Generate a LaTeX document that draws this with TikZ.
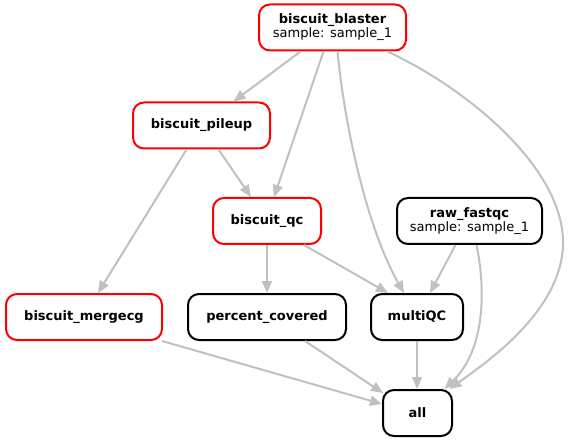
\documentclass[tikz,border=0pt]{standalone}
\usepackage{fontspec}
\setmainfont{DejaVu Sans}
\usepackage{tikz}
\usetikzlibrary{arrows.meta, positioning, calc}
\definecolor{rulered}{RGB}{255,0,0}
\definecolor{edgegray}{RGB}{192,192,192}
\tikzset{
  job/.style={rectangle, draw=black, fill=white, align=center,
    minimum height=46pt, inner sep=2pt, rounded corners=11pt,
    line width=2pt, font=\fontsize{13}{12.5}\selectfont},
  redjob/.style={job, draw=rulered},
  edge/.style={-{Triangle[length=12pt, width=10pt]}, line width=2pt, color=edgegray}
}
\begin{document}
\begin{tikzpicture}[x=1pt, y=-1pt]
  \useasboundingbox (0,0) rectangle (569,443);

  % jobs
  \node[redjob, minimum width=147pt] (blaster) at (332.5,27.5)
    {\textbf{biscuit\_blaster}\\sample: sample\_1};
  \node[redjob, minimum width=137pt] (pileup) at (201.5,125.5) {\textbf{biscuit\_pileup}};
  \node[redjob, minimum width=108pt] (qc) at (267,221) {\textbf{biscuit\_qc}};
  \node[job, minimum width=145pt] (rawqc) at (469.5,221)
    {\textbf{raw\_fastqc}\\sample: sample\_1};
  \node[redjob, minimum width=156pt] (mergecg) at (84,317) {\textbf{biscuit\_mergecg}};
  \node[job, minimum width=158pt] (covered) at (267,317) {\textbf{percent\_covered}};
  \node[job, minimum width=92pt] (multiqc) at (417,317) {\textbf{multiQC}};
  \node[job, minimum width=69pt] (all) at (417.5,413) {\textbf{all}};

  % dependencies
  \draw[edge] ([xshift=-32pt]blaster.south) -- ([xshift=32pt]pileup.north);
  \draw[edge] ([xshift=-9pt]blaster.south) -- ([xshift=7pt]qc.north);
  \draw[edge] ([xshift=5pt]blaster.south) .. controls (345,130) and (368,230) .. ([xshift=-13pt]multiqc.north);
  \draw[edge] ([xshift=55pt]blaster.south) .. controls (470,90) and (565,170) .. (563,245)
    .. controls (561,310) and (490,360) .. ([xshift=32pt]all.north);
  \draw[edge] ([xshift=17pt]pileup.south) -- ([xshift=-16pt]qc.north);
  \draw[edge] ([xshift=-15pt]pileup.south) -- ([xshift=14pt]mergecg.north);
  \draw[edge] (qc.south) -- (covered.north);
  \draw[edge] ([xshift=37pt]qc.south) -- ([xshift=-29pt]multiqc.north);
  \draw[edge] ([xshift=-14pt]rawqc.south) -- ([xshift=13pt]multiqc.north);
  \draw[edge] ([xshift=7pt]rawqc.south) .. controls (486,290) and (485,350) .. ([xshift=27pt]all.north);
  \draw[edge] ([xshift=78pt]mergecg.south) -- ([yshift=9pt]all.west);
  \draw[edge] ([xshift=38pt]covered.south) -- ([xshift=1pt,yshift=-4pt]all.north west);
  \draw[edge] (multiqc.south) -- (multiqc.south |- all.north);
\end{tikzpicture}
\end{document}
